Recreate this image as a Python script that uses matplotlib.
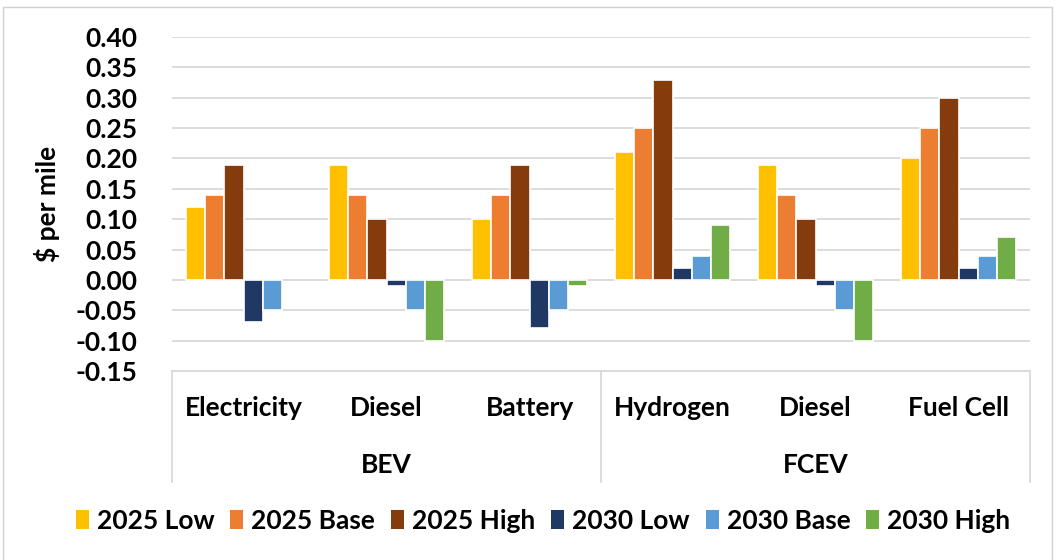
import numpy as np
import matplotlib
matplotlib.use('Agg')
import matplotlib.pyplot as plt
from matplotlib.patches import Rectangle, Patch

plt.rcParams['font.family'] = ['Lato', 'DejaVu Sans']
plt.rcParams['font.weight'] = 'bold'

categories = ['Electricity', 'Diesel', 'Battery', 'Hydrogen', 'Diesel', 'Fuel Cell']
groups = ['BEV', 'FCEV']
series = ['2025 Low', '2025 Base', '2025 High', '2030 Low', '2030 Base', '2030 High']
colors = ['#FFC000', '#ED7D31', '#843C0C', '#1F3864', '#5B9BD5', '#70AD47']

low_2025 = [0.12, 0.19, 0.10, 0.21, 0.19, 0.20]
base_2025 = [0.14, 0.14, 0.14, 0.25, 0.14, 0.25]
high_2025 = [0.19, 0.10, 0.19, 0.33, 0.10, 0.30]
low_2030 = [-0.07, -0.01, -0.08, 0.02, -0.01, 0.02]
base_2030 = [-0.05, -0.05, -0.05, 0.04, -0.05, 0.04]
high_2030 = [0.00, -0.10, -0.01, 0.09, -0.10, 0.07]
values = [low_2025, base_2025, high_2025, low_2030, base_2030, high_2030]

FS = 19

fig = plt.figure(figsize=(10.57, 5.6), dpi=100)
ax = fig.add_axes([172 / 1057, 1 - 371 / 560, (1030 - 172) / 1057, (371 - 37) / 560])

x = np.arange(len(categories))
slot = 0.135
for i, (name, vals) in enumerate(zip(series, values)):
    offs = (i - 2.5) * slot
    edges = ['white' if v != 0 else 'none' for v in vals]
    ax.bar(x + offs, vals, width=slot, color=colors[i], edgecolor=edges,
           linewidth=1.2, label=name, zorder=3)

ax.set_xlim(-0.5, len(categories) - 0.5)
ax.set_ylim(-0.15, 0.40)
yt = np.arange(-0.15, 0.401, 0.05)
ax.set_yticks(yt)
ax.set_yticklabels([f'{v:.2f}' for v in yt], fontsize=FS, fontweight='bold')
ax.tick_params(axis='y', length=0, pad=25)
ax.set_xticks([])
ax.grid(axis='y', color='#d9d9d9', linewidth=1.3, zorder=0)
for s in ax.spines.values():
    s.set_visible(False)
ax.set_ylabel('$ per mile', fontsize=FS, fontweight='bold')
ax.yaxis.set_label_coords((60 - 172) / 858, 0.5)

# multi-level category axis
depth = (482 - 371) / (371 - 37)
for xv in [0, 0.5, 1]:
    ax.plot([xv, xv], [0, -depth], transform=ax.transAxes, color='#d9d9d9',
            linewidth=1.3, clip_on=False)
ax.plot([0, 1], [0, 0], transform=ax.transAxes, color='#d9d9d9', linewidth=1.3,
        clip_on=False)
cat_y = -(408 - 371) / (371 - 37)
grp_y = -(465 - 371) / (371 - 37)
for i, c in enumerate(categories):
    ax.text((i + 0.5) / len(categories), cat_y, c, transform=ax.transAxes,
            ha='center', va='center', fontsize=FS, fontweight='bold')
for j, g in enumerate(groups):
    ax.text(0.25 + 0.5 * j, grp_y, g, transform=ax.transAxes,
            ha='center', va='center', fontsize=FS, fontweight='bold')

handles = [Patch(facecolor=c, edgecolor='none') for c in colors]
fig.legend(handles, series, loc='center', bbox_to_anchor=(543 / 1057, 1 - 521 / 560),
           ncol=6, frameon=False, handlelength=0.5, handleheight=0.75,
           handletextpad=0.3, columnspacing=0.6, prop={'weight': 'bold', 'size': FS})

fig.patches.append(Rectangle((3 / 1057, -0.01), 1049 / 1057, 1 - 7 / 560 + 0.01,
                             transform=fig.transFigure, fill=False,
                             edgecolor='#d0d0d0', linewidth=1.0))

fig.savefig('out.png', dpi=100)
